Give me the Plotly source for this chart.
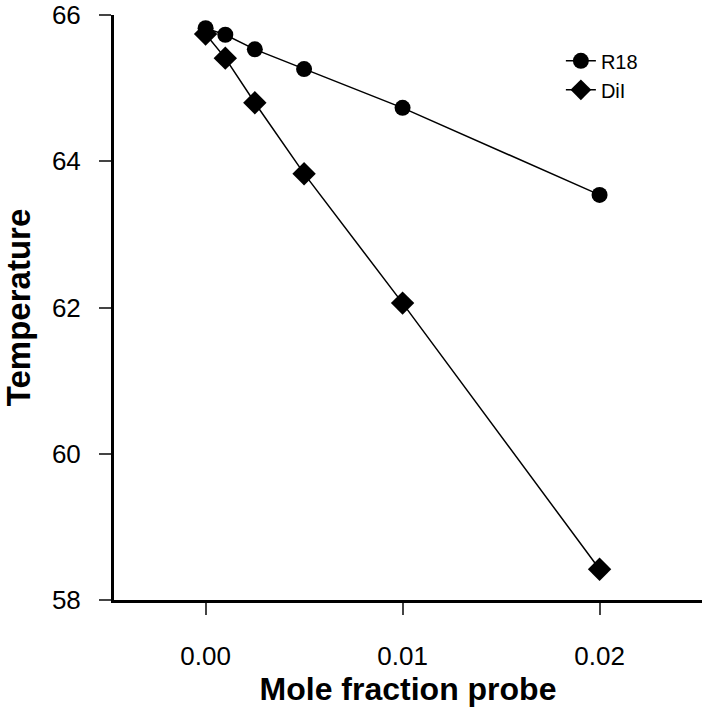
import plotly.graph_objects as go

x_vals = [0.0, 0.001, 0.0025, 0.005, 0.01, 0.02]
r18 = [65.82, 65.73, 65.53, 65.26, 64.73, 63.54]
dil = [65.74, 65.41, 64.80, 63.83, 62.06, 58.42]
x_ticks = [0.0, 0.01, 0.02]
x_tick_labels = ["0.00", "0.01", "0.02"]
y_ticks = [58, 60, 62, 64, 66]

fig = go.Figure()
fig.add_trace(go.Scatter(x=x_vals, y=r18, name="R18", mode="lines+markers",
                         line=dict(color="black", width=1.5),
                         marker=dict(symbol="circle", size=16, color="black")))
fig.add_trace(go.Scatter(x=x_vals, y=dil, name="DiI", mode="lines+markers",
                         line=dict(color="black", width=1.5),
                         marker=dict(symbol="diamond", size=18, color="black")))

font = "Liberation Sans, Arial, sans-serif"
fig.update_layout(
    width=705, height=719,
    margin=dict(l=114, r=3, t=15, b=119, autoexpand=False),
    plot_bgcolor="white", paper_bgcolor="white",
    font=dict(family=font, color="black"),
    legend=dict(x=0.76, y=0.955, xanchor="left", yanchor="top",
                font=dict(size=20), bgcolor="rgba(0,0,0,0)", tracegroupgap=0),
    showlegend=True,
)
fig.update_xaxes(range=[-0.00465, 0.0252], tickvals=x_ticks, ticktext=x_tick_labels,
                 automargin=False,
                 showgrid=False, zeroline=False, showline=True, linecolor="black", linewidth=3,
                 ticks="outside", ticklen=12, tickwidth=1.5, tickcolor="#444",
                 tickfont=dict(size=26), ticklabelstandoff=19,
                 title=dict(text="<b>Mole fraction probe</b>", font=dict(size=32), standoff=8))
fig.update_yaxes(range=[58, 66], tickvals=y_ticks,
                 automargin=False,
                 showgrid=False, zeroline=False, showline=True, linecolor="black", linewidth=3,
                 ticks="outside", ticklen=12, tickwidth=1.5, tickcolor="#444",
                 tickfont=dict(size=26), ticklabelstandoff=13,
                 title=dict(text="<b>Temperature</b>", font=dict(size=33), standoff=32))
fig.write_html("out.html", config={"displayModeBar": False},
               post_script="document.body.style.margin='0';")
